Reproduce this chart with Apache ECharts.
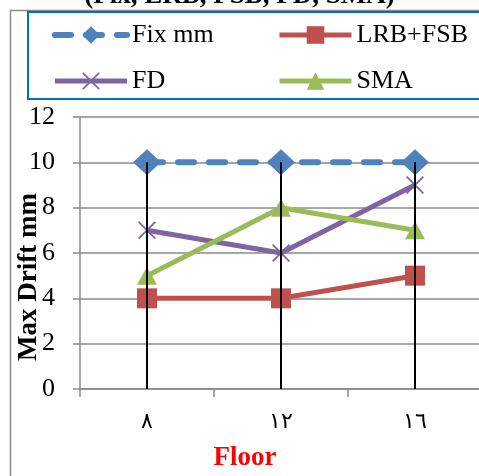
<!DOCTYPE html>
<html>
<head>
<meta charset="utf-8">
<script src="https://cdn.jsdelivr.net/npm/echarts@6/dist/echarts.min.js"></script>
<style>
  html, body { margin: 0; padding: 0; background: #fff; }
  #chart { width: 479px; height: 476px; }
</style>
</head>
<body>
<div id="chart"></div>
<script>
// данные графика
var floors = ['٨', '١٢', '١٦'];
var fixMm = [10, 10, 10];
var lrbFsb = [4, 4, 5];
var fd = [7, 6, 9];
var sma = [5, 8, 7];
var yTicks = [0, 2, 4, 6, 8, 10, 12];

var serif = '"Liberation Serif", "Times New Roman", serif';
var grey = '#8a8a8a';

// вертикальные линии до верхней точки
var dropTop = floors.map(function (f, i) {
    return Math.max(fixMm[i], lrbFsb[i], fd[i], sma[i]);
});

var crossPath = 'path://M0,0.7L0.7,0L10,9.3L9.3,10Z M9.3,0L10,0.7L0.7,10L0,9.3Z';

var chart = echarts.init(document.getElementById('chart'));

var legendText = { fontFamily: serif, fontSize: 26, color: '#000', lineHeight: 26 };

var option = {
    animation: false,
    title: {
        text: '(Fix, LRB, FSB, FD, SMA)',
        left: 'center',
        top: -22,
        textStyle: { fontFamily: serif, fontSize: 27, fontWeight: 'bold', color: '#000' }
    },
    graphic: [
        {
            type: 'rect',
            shape: { x: 10.5, y: 10.5, width: 520, height: 520 },
            style: { fill: 'none', stroke: grey, lineWidth: 1.5 },
            silent: true
        },
        {
            type: 'rect',
            shape: { x: 28, y: 12, width: 480, height: 87 },
            style: { fill: 'none', stroke: '#0070C0', lineWidth: 2 },
            silent: true
        }
    ],
    legend: [
        {
            orient: 'vertical',
            left: 52,
            top: 22,
            padding: 0,
            itemWidth: 72,
            itemHeight: 22,
            itemGap: 20,
            data: [
                { name: 'Fix mm', lineStyle: { width: 6, type: [16, 15], cap: 'round' } },
                { name: 'FD', lineStyle: { width: 5 } }
            ],
            textStyle: legendText
        },
        {
            orient: 'vertical',
            left: 277,
            top: 22,
            padding: 0,
            itemWidth: 72,
            itemHeight: 22,
            itemGap: 20,
            data: [
                { name: 'LRB+FSB', lineStyle: { width: 5 } },
                { name: 'SMA', lineStyle: { width: 5 } }
            ],
            textStyle: legendText
        }
    ],
    grid: {
        left: 80,
        right: -3,
        top: 117,
        bottom: 87,
        outerBoundsMode: 'none',
        containLabel: false
    },
    xAxis: {
        type: 'category',
        data: floors,
        name: 'Floor',
        nameLocation: 'middle',
        nameGap: 56,
        nameMoveOverlap: false,
        nameTextStyle: {
            fontFamily: serif, fontSize: 27, fontWeight: 'bold', color: '#ff0000',
            padding: [0, 72, 0, 0]
        },
        axisLine: { lineStyle: { color: grey, width: 1.5 } },
        axisTick: { show: true, length: 8, lineStyle: { color: grey, width: 1.5 } },
        axisLabel: { margin: 22, fontSize: 22, color: '#000', fontFamily: '"DejaVu Serif", serif' },
        splitLine: { show: false }
    },
    yAxis: {
        type: 'value',
        min: yTicks[0],
        max: yTicks[yTicks.length - 1],
        interval: 2,
        name: 'Max Drift mm',
        nameLocation: 'middle',
        nameGap: 37,
        nameMoveOverlap: false,
        nameTextStyle: {
            fontFamily: serif, fontSize: 27, fontWeight: 'bold', color: '#000',
            padding: [0, 48, 0, 0]
        },
        axisLine: { show: true, lineStyle: { color: grey, width: 1.5 } },
        axisTick: { show: true, length: 7, lineStyle: { color: grey, width: 1.5 } },
        axisLabel: { margin: 25, fontSize: 26, color: '#000', fontFamily: serif },
        splitLine: { show: true, lineStyle: { color: grey, width: 1.5 } }
    },
    series: [
        {
            name: 'Fix mm',
            type: 'line',
            data: fixMm,
            symbol: 'diamond',
            symbolSize: [28, 26],
            color: '#4F81BD',
            lineStyle: { width: 6, type: [16, 15], cap: 'round' }
        },
        {
            name: 'LRB+FSB',
            type: 'line',
            data: lrbFsb,
            symbol: 'rect',
            symbolSize: 20,
            color: '#C0504D',
            lineStyle: { width: 5 }
        },
        {
            name: 'FD',
            type: 'line',
            data: fd,
            symbol: crossPath,
            symbolSize: 18,
            color: '#8064A2',
            lineStyle: { width: 5 }
        },
        {
            name: 'SMA',
            type: 'line',
            data: sma,
            symbol: 'triangle',
            symbolSize: [20, 18],
            color: '#9BBB59',
            lineStyle: { width: 5 }
        },
        {
            name: 'drop',
            type: 'bar',
            data: dropTop,
            barWidth: 2,
            z: 5,
            itemStyle: { color: '#000' },
            silent: true
        }
    ]
};

chart.setOption(option);
</script>
</body>
</html>
